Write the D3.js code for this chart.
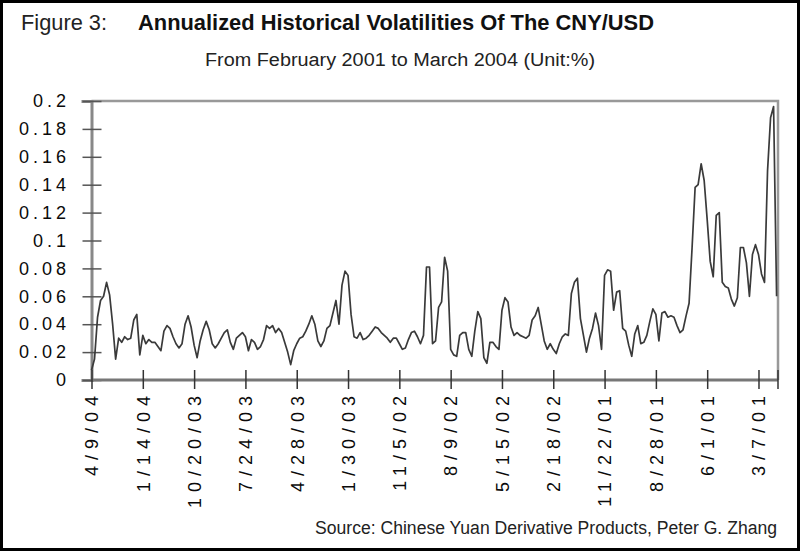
<!DOCTYPE html>
<html>
<head>
<meta charset="utf-8">
<script src="https://cdn.jsdelivr.net/npm/d3@7"></script>
<style>
  html, body { margin: 0; padding: 0; background: #fff; }
  svg { display: block; }
  .narrow { font-family: "Liberation Sans Narrow", "Liberation Sans", Arial, sans-serif; font-stretch: condensed; }
  .tick-label { font-family: "Liberation Sans", Arial, sans-serif; font-size: 18px; fill: #0a0a0a; }
</style>
</head>
<body>
<div id="chart"></div>
<script>
// category labels, newest first (every 17th observation)
const dateLabels = ['4/9/04', '1/14/04', '10/20/03', '7/24/03', '4/28/03', '1/30/03', '11/5/02',
  '8/9/02', '5/15/02', '2/18/02', '11/22/01', '8/28/01', '6/1/01', '3/7/01'];
const pointsPerLabel = 17;

const yTicks = [0, 0.02, 0.04, 0.06, 0.08, 0.1, 0.12, 0.14, 0.16, 0.18, 0.2];

// annualized volatility (newest -> oldest)
const volatility = [
  0.007, 0.015, 0.045, 0.057, 0.060, 0.070, 0.061, 0.040, 0.015, 0.030,
  0.027, 0.031, 0.029, 0.030, 0.043, 0.047, 0.018, 0.032, 0.026, 0.029,
  0.027, 0.027, 0.024, 0.021, 0.035, 0.039, 0.037, 0.031, 0.026, 0.023,
  0.026, 0.040, 0.046, 0.038, 0.025, 0.016, 0.028, 0.036, 0.042, 0.036,
  0.026, 0.023, 0.026, 0.030, 0.034, 0.036, 0.027, 0.022, 0.030, 0.032,
  0.034, 0.031, 0.021, 0.029, 0.027, 0.022, 0.024, 0.029, 0.039, 0.037,
  0.039, 0.034, 0.037, 0.034, 0.027, 0.020, 0.011, 0.021, 0.026, 0.030,
  0.031, 0.035, 0.040, 0.046, 0.040, 0.028, 0.024, 0.028, 0.037, 0.039,
  0.048, 0.057, 0.040, 0.068, 0.078, 0.075, 0.047, 0.031, 0.030, 0.034,
  0.029, 0.030, 0.032, 0.035, 0.038, 0.037, 0.034, 0.032, 0.030, 0.027,
  0.030, 0.030, 0.026, 0.022, 0.023, 0.029, 0.034, 0.035, 0.031, 0.026,
  0.032, 0.081, 0.081, 0.026, 0.028, 0.052, 0.056, 0.088, 0.078, 0.022,
  0.018, 0.017, 0.032, 0.034, 0.034, 0.022, 0.017, 0.035, 0.049, 0.044,
  0.016, 0.012, 0.027, 0.027, 0.024, 0.022, 0.050, 0.059, 0.056, 0.038,
  0.032, 0.034, 0.032, 0.031, 0.030, 0.032, 0.043, 0.046, 0.052, 0.040,
  0.028, 0.022, 0.026, 0.022, 0.019, 0.026, 0.031, 0.033, 0.032, 0.062,
  0.070, 0.073, 0.044, 0.032, 0.020, 0.030, 0.037, 0.048, 0.039, 0.022,
  0.075, 0.079, 0.078, 0.050, 0.063, 0.064, 0.037, 0.035, 0.025, 0.017,
  0.033, 0.039, 0.026, 0.027, 0.032, 0.042, 0.051, 0.047, 0.028, 0.048,
  0.049, 0.045, 0.046, 0.045, 0.039, 0.034, 0.036, 0.046, 0.055, 0.095,
  0.138, 0.140, 0.155, 0.143, 0.115, 0.085, 0.074, 0.118, 0.120, 0.070,
  0.067, 0.066, 0.058, 0.053, 0.059, 0.095, 0.095, 0.084, 0.060, 0.090,
  0.097, 0.090, 0.076, 0.070, 0.150, 0.188, 0.196, 0.060
];

const width = 800;
const height = 551;
const plot = { left: 91.5, right: 778, top: 101, bottom: 380 };
const lastX = 776.6;

const svg = d3.select('#chart')
  .append('svg')
  .attr('width', width)
  .attr('height', height);

svg.append('rect')
  .attr('x', 1.5).attr('y', 1.5)
  .attr('width', width - 3).attr('height', height - 3)
  .attr('fill', '#fff')
  .attr('stroke', '#000')
  .attr('stroke-width', 3);

const x = d3.scaleLinear()
  .domain([0, volatility.length - 1])
  .range([plot.left, lastX]);

const y = d3.scaleLinear()
  .domain([0, 0.2])
  .range([plot.bottom, plot.top]);

// titles
svg.append('text')
  .attr('class', 'narrow')
  .attr('x', 21).attr('y', 30)
  .attr('font-size', '22px')
  .attr('fill', '#222')
  .attr('textLength', 86)
  .attr('lengthAdjust', 'spacingAndGlyphs')
  .text('Figure 3:');

svg.append('text')
  .attr('class', 'narrow')
  .attr('x', 138).attr('y', 30)
  .attr('font-size', '22px')
  .attr('font-weight', 'bold')
  .attr('fill', '#111')
  .attr('textLength', 516)
  .attr('lengthAdjust', 'spacingAndGlyphs')
  .text('Annualized Historical Volatilities Of The CNY/USD');

svg.append('text')
  .attr('class', 'narrow')
  .attr('x', 205).attr('y', 66)
  .attr('font-size', '18px')
  .attr('fill', '#222')
  .attr('textLength', 390)
  .attr('lengthAdjust', 'spacingAndGlyphs')
  .text('From February 2001 to March 2004 (Unit:%)');

svg.append('text')
  .attr('class', 'narrow')
  .attr('x', 315).attr('y', 534)
  .attr('font-size', '18px')
  .attr('fill', '#222')
  .attr('textLength', 462)
  .attr('lengthAdjust', 'spacingAndGlyphs')
  .text('Source: Chinese Yuan Derivative Products, Peter G. Zhang');

// plot frame (top / right)
svg.append('path')
  .attr('d', `M${plot.left},${plot.top}H${plot.right}V${plot.bottom}`)
  .attr('fill', 'none')
  .attr('stroke', '#999')
  .attr('stroke-width', 2.5);

// y axis
const yAxis = svg.append('g')
  .attr('transform', `translate(${plot.left},0)`)
  .call(d3.axisLeft(y).tickValues(yTicks).tickSize(10).tickPadding(14)
    .tickFormat(d => String(+d.toFixed(2))));

yAxis.select('.domain').attr('stroke', '#888').attr('stroke-width', 3);
yAxis.selectAll('.tick line')
  .attr('x2', -9).attr('x1', 10)
  .attr('stroke', '#555').attr('stroke-width', 1.5);
yAxis.selectAll('.tick text')
  .attr('class', 'tick-label')
  .attr('x', -21.5)
  .attr('font-size', null)
  .attr('font-family', null)
  .style('letter-spacing', '4px');

// x axis
const labelTicks = dateLabels.map((d, i) => i * pointsPerLabel);
const xAxis = svg.append('g')
  .attr('transform', `translate(0,${plot.bottom})`)
  .call(d3.axisBottom(x).tickValues(labelTicks).tickSize(9)
    .tickFormat((d, i) => dateLabels[i]));

xAxis.select('.domain')
  .attr('d', `M${plot.left},0H${plot.right}`)
  .attr('stroke', '#777').attr('stroke-width', 3);
xAxis.selectAll('.tick line')
  .attr('y1', -10).attr('y2', 9)
  .attr('stroke', '#333').attr('stroke-width', 1.5);
xAxis.selectAll('.tick text')
  .attr('class', 'tick-label')
  .attr('font-size', null)
  .attr('font-family', null)
  .attr('transform', 'rotate(-90)')
  .attr('x', -10)
  .attr('y', 0)
  .attr('dy', '0.35em')
  .style('letter-spacing', '6px')
  .style('text-anchor', 'end');

// right-edge tick of the category axis
svg.append('line')
  .attr('x1', plot.right).attr('x2', plot.right)
  .attr('y1', plot.bottom - 10).attr('y2', plot.bottom + 9)
  .attr('stroke', '#333').attr('stroke-width', 1.5);

// series
const line = d3.line()
  .x((d, i) => x(i))
  .y(d => y(d));

svg.append('path')
  .datum(volatility)
  .attr('fill', 'none')
  .attr('stroke', '#3a3a3a')
  .attr('stroke-width', 1.7)
  .attr('stroke-linejoin', 'round')
  .attr('d', line);
</script>
</body>
</html>
